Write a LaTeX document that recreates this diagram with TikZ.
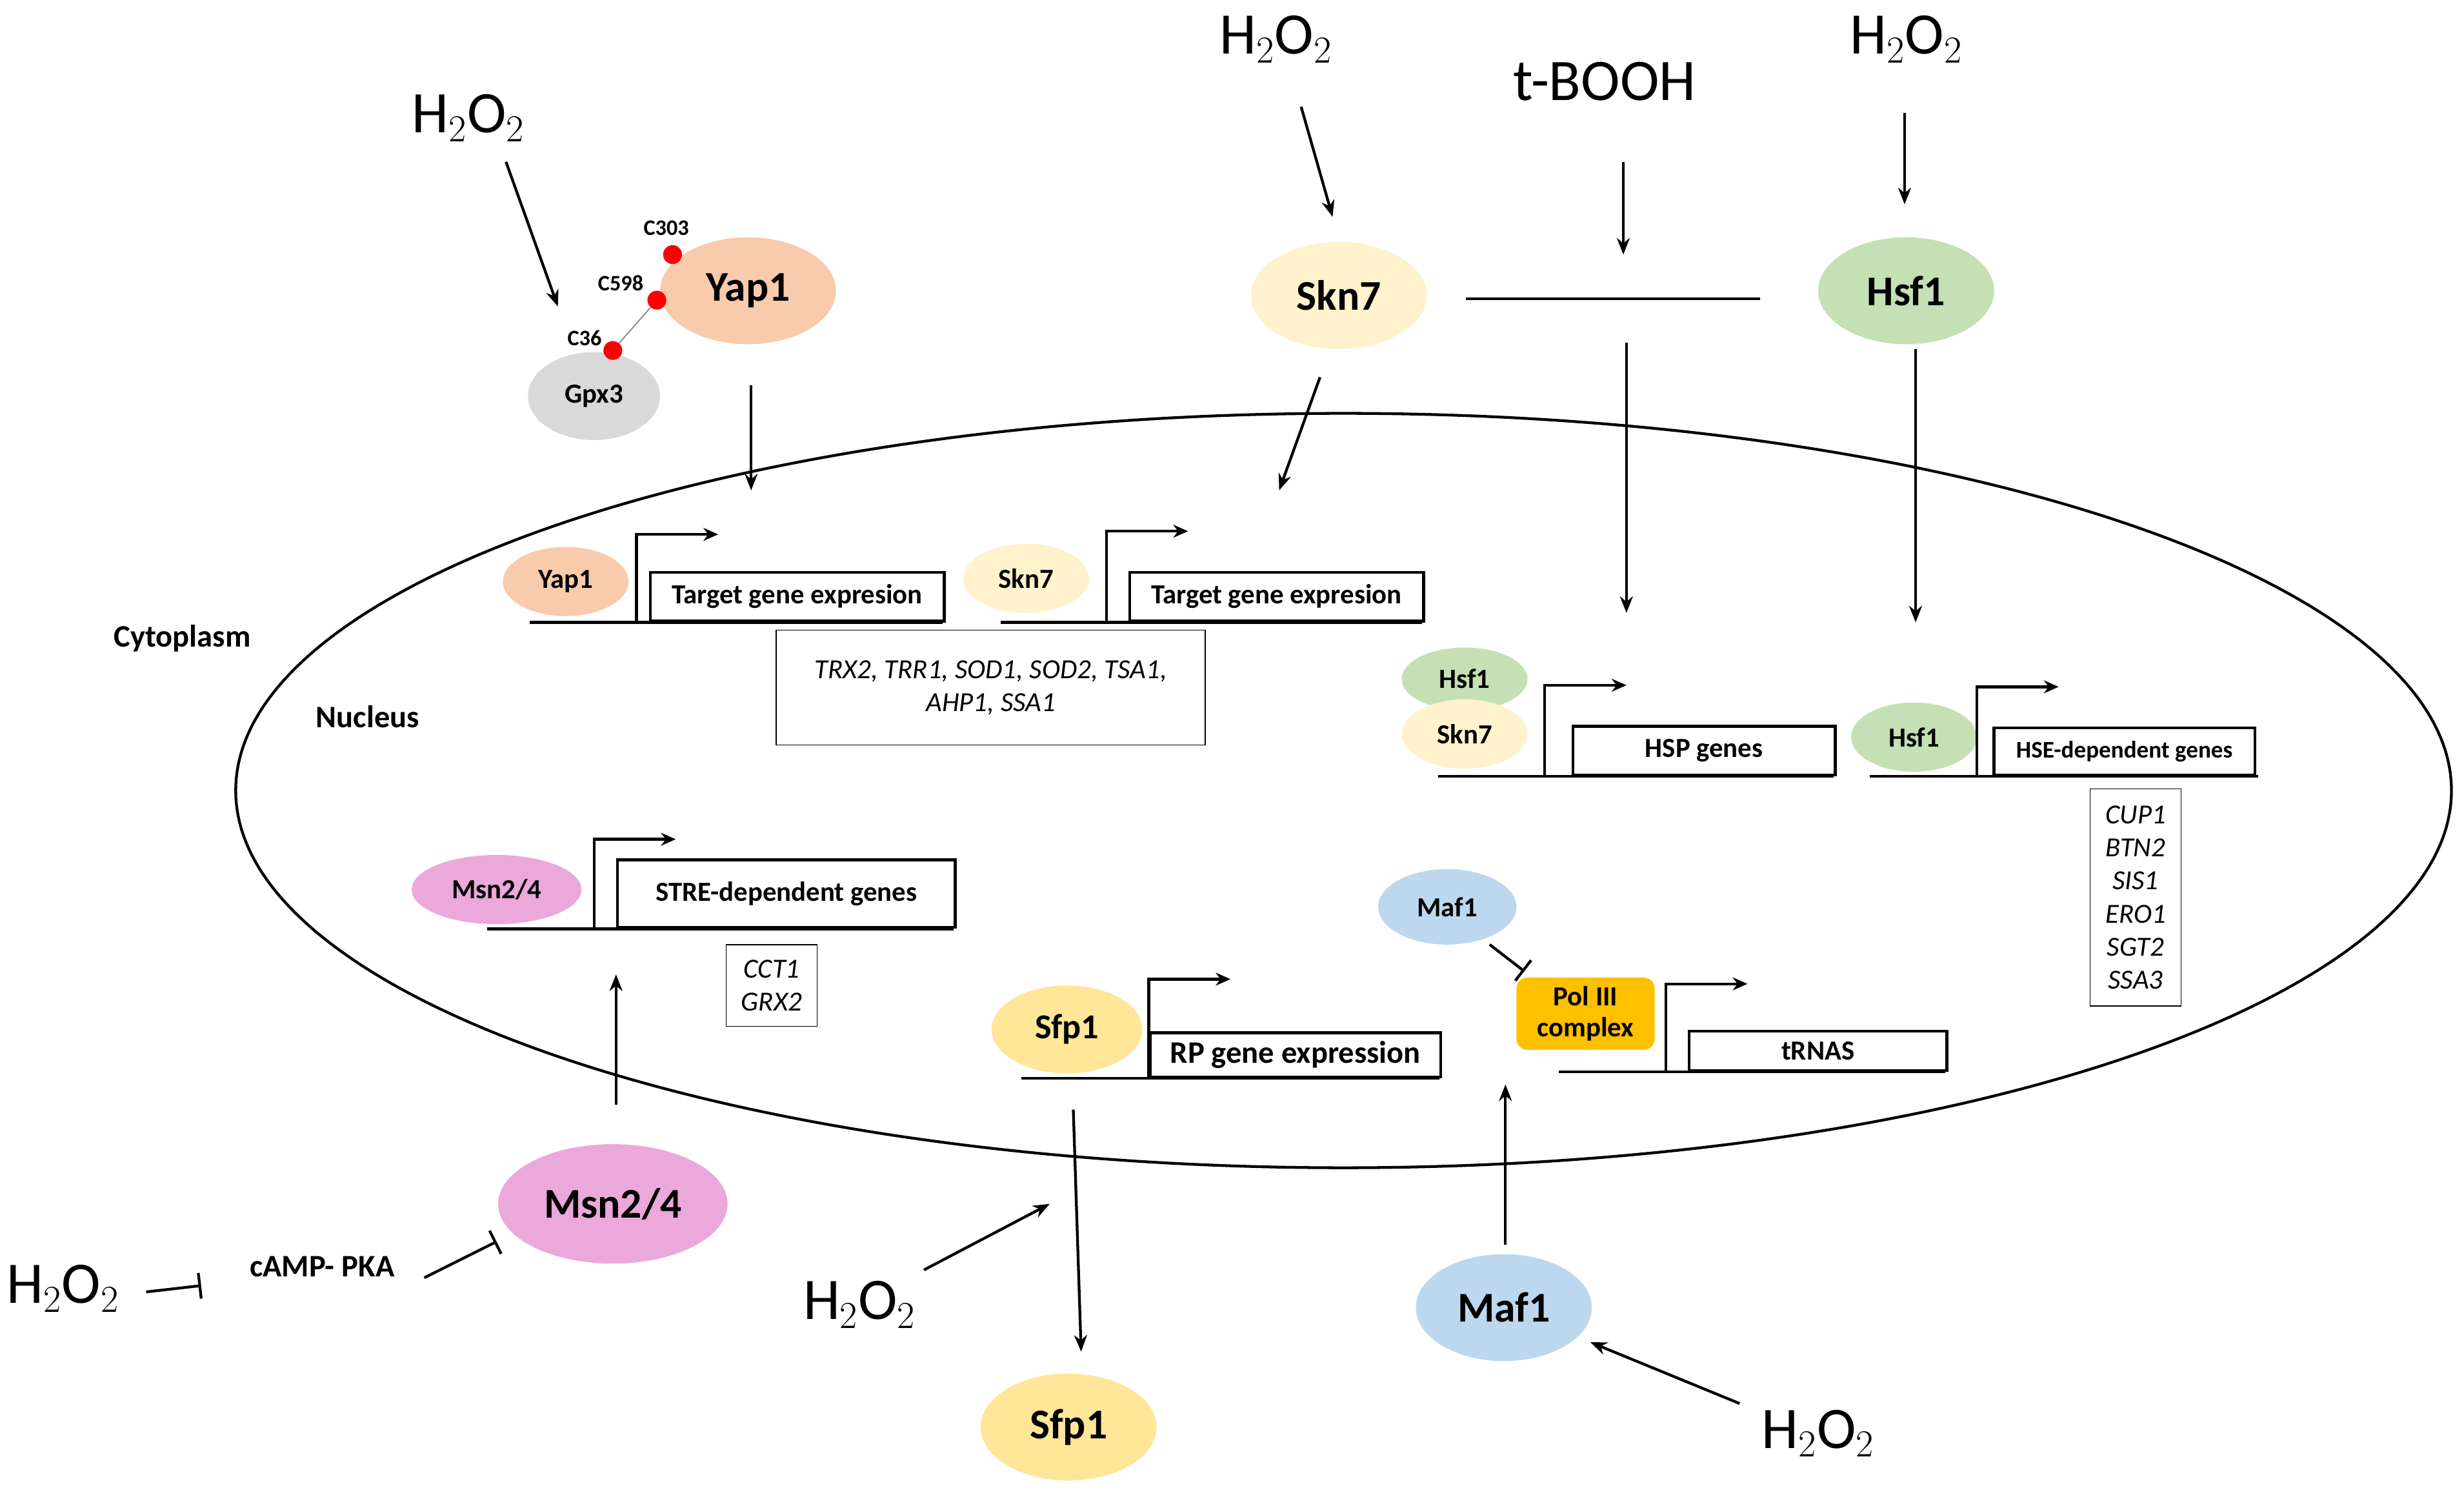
\documentclass[tikz,border=0pt]{standalone}
\usepackage{fontspec}
\setmainfont{Carlito}
\usetikzlibrary{arrows.meta,shapes.geometric}
\definecolor{peach}{HTML}{F8CBAD}
\definecolor{cream}{HTML}{FFF2CC}
\definecolor{green1}{HTML}{C5E0B4}
\definecolor{pink1}{HTML}{EBA8DA}
\definecolor{yel1}{HTML}{FFE699}
\definecolor{blue1}{HTML}{BDD7EE}
\definecolor{gray1}{HTML}{D9D9D9}
\definecolor{orng}{HTML}{FFC000}
\begin{document}
\begin{tikzpicture}[x=0.03cm,y=-0.03cm,
  ar/.style={line width=1.5pt,-{Stealth[length=9pt,width=7pt]}},
  inh/.style={line width=1.5pt,-{Bar[width=14pt]}},
  big/.style={ellipse,fill=#1,minimum width=3.36cm,minimum height=2.04cm,font=\fontsize{23}{26}\selectfont\bfseries,inner sep=0pt},
  sm/.style={ellipse,fill=#1,minimum width=2.4cm,minimum height=1.32cm,font=\fontsize{15}{18}\selectfont\bfseries,inner sep=0pt},
  h2o2/.style={font=\fontsize{32}{36}\selectfont},
  lab/.style={font=\fontsize{17}{20}\selectfont\bfseries},
  gb/.style={draw,line width=1.5pt,font=\fontsize{15}{18}\selectfont\bfseries,inner sep=0pt,anchor=south west},
  lst/.style={draw,line width=0.5pt,font=\fontsize{15}{18}\selectfont\itshape,align=center,inner sep=4pt},
  dot/.style={circle,fill=red,minimum size=0.36cm,inner sep=0pt},
  cl/.style={font=\fontsize{12}{14}\selectfont\bfseries}]
\useasboundingbox (0,0) rectangle (1568,953.4);
% nucleus
\draw[line width=1.5pt] (855,503) ellipse [x radius=705, y radius=240];
\node[lab] (cyt) at (116,406) {Cytoplasm};
\node[lab] (nuc) at (234,456) {Nucleus};
% gene cassette: base x1, x2, y, promoter x, top y
\newcommand{\cassette}[5]{%
  \draw[line width=1.5pt] (#1,#3) -- (#2,#3);
  \draw[line width=1.5pt,-{Stealth[length=8pt,width=7pt]}] (#4,#3) -- (#4,#5) -- ++(52,0);
}
% Yap1
\node[h2o2] (h1) at (298,75) {H$_2$O$_2$};
\node[big=peach] (yap) at (476,185) {Yap1};
\node[big=gray1,minimum width=2.52cm,minimum height=1.68cm,font=\fontsize{15}{18}\selectfont\bfseries] (gpx) at (378,252) {Gpx3};
\draw[ar] (322,103) -- (355,195);
\node[dot] (c303) at (428,162) {};
\node[dot] (c598) at (418,191) {};
\node[dot] (c36) at (390,223) {};
\draw[gray,line width=0.6pt] (c36) -- (c598);
\node[cl] at (424,145) {C303};
\node[cl] at (395,180) {C598};
\node[cl] at (372,215) {C36};
\draw[ar] (478,245) -- (478,312);
\node[sm=peach] (yaps) at (360,370) {Yap1};
\cassette{337}{600}{396}{405}{340}
\node[gb,minimum width=5.61cm,minimum height=0.93cm] (tg1) at (413,396) {Target gene expresion};
\node[lst,minimum width=8.19cm,minimum height=2.19cm] (l1) at (630.5,437.5) {TRX2, TRR1, SOD1, SOD2, TSA1,\\ AHP1, SSA1};
% Skn7
\node[h2o2] (h2) at (812,25) {H$_2$O$_2$};
\node[big=cream] (skn) at (852,188) {Skn7};
\draw[ar] (828,68) -- (848,138);
\draw[ar] (840,240) -- (814,312);
\node[sm=cream] (skns) at (653,368) {Skn7};
\cassette{637}{905}{396}{704}{338}
\node[gb,minimum width=5.61cm,minimum height=0.93cm] (tg2) at (718,396) {Target gene expresion};
% t-BOOH
\node[h2o2] (tb) at (1021,52) {t-BOOH};
\draw[ar] (1033,103) -- (1033,162);
\draw[line width=1.5pt] (933,190) -- (1120,190);
\draw[ar] (1035,218) -- (1035,390);
% Hsf1
\node[h2o2] (h3) at (1213,25) {H$_2$O$_2$};
\node[big=green1] (hsf) at (1213,185) {Hsf1};
\draw[ar] (1212,72) -- (1212,130);
\draw[ar] (1219,222) -- (1219,396);
\node[sm=green1,minimum height=1.2cm] (hsfs) at (932,432) {Hsf1};
\node[sm=cream] (skns2) at (932,467) {Skn7};
\cassette{915}{1167}{494}{983}{436}
\node[gb,minimum width=5.01cm,minimum height=0.93cm] (hsp) at (1000,494) {HSP genes};
\node[sm=green1] (hsfs2) at (1218,469) {Hsf1};
\cassette{1190}{1437}{494}{1258}{437}
\node[gb,minimum width=4.98cm,minimum height=0.9cm,font=\fontsize{13}{16}\selectfont\bfseries] (hse) at (1268,494) {HSE-dependent genes};
\node[lst,minimum width=1.74cm,minimum height=4.14cm] (l2) at (1359,571) {CUP1\\BTN2\\SIS1\\ERO1\\SGT2\\SSA3};
% Msn2/4
\node[sm=pink1,minimum width=3.24cm] (msns) at (316,566) {Msn2/4};
\cassette{310}{607}{591}{378}{534}
\node[gb,minimum width=6.45cm,minimum height=1.29cm] (stre) at (392,591) {STRE-dependent genes};
\node[lst,minimum width=1.74cm,minimum height=1.56cm] (l3) at (491,627) {CCT1\\GRX2};
\node[big=pink1,minimum width=4.38cm,minimum height=2.28cm] (msn) at (390,766) {Msn2/4};
\draw[ar] (392,703) -- (392,620);
\node[h2o2] (h4) at (40,820) {H$_2$O$_2$};
\node[lab] (pka) at (205,806) {cAMP- PKA};
\draw[inh] (93,822) -- (128,818);
\draw[inh] (270,813) -- (316,790);
% Sfp1
\node[sm=yel1,minimum width=2.88cm,minimum height=1.68cm,font=\fontsize{19}{22}\selectfont\bfseries] (sfps) at (679,655) {Sfp1};
\cassette{650}{916}{686}{731}{623}
\node[gb,minimum width=5.55cm,minimum height=0.84cm,font=\fontsize{17}{20}\selectfont\bfseries] (rp) at (731,686) {RP gene expression};
\draw[ar] (683,706) -- (688,860);
\node[big=yel1] (sfp) at (680,908) {Sfp1};
\node[h2o2] (h5) at (547,830) {H$_2$O$_2$};
\draw[ar] (588,808) -- (668,766);
% Maf1
\node[sm=blue1,minimum width=2.64cm,minimum height=1.44cm] (mafs) at (921,577) {Maf1};
\node[fill=orng,rounded corners=6pt,minimum width=2.64cm,minimum height=1.38cm,align=center,inner sep=0pt,font=\fontsize{15}{17}\selectfont\bfseries] (pol) at (1009,645) {Pol III\\complex};
\draw[inh] (948,601) -- (970,618);
\cassette{992}{1238}{682}{1060}{626}
\node[gb,minimum width=4.92cm,minimum height=0.75cm] (trna) at (1074,682) {tRNAS};
\node[big=blue1] (maf) at (957,832) {Maf1};
\draw[ar] (958,792) -- (958,690);
\node[h2o2] (h6) at (1157,912) {H$_2$O$_2$};
\draw[ar] (1107,893) -- (1012,854);
\end{tikzpicture}
\end{document}
